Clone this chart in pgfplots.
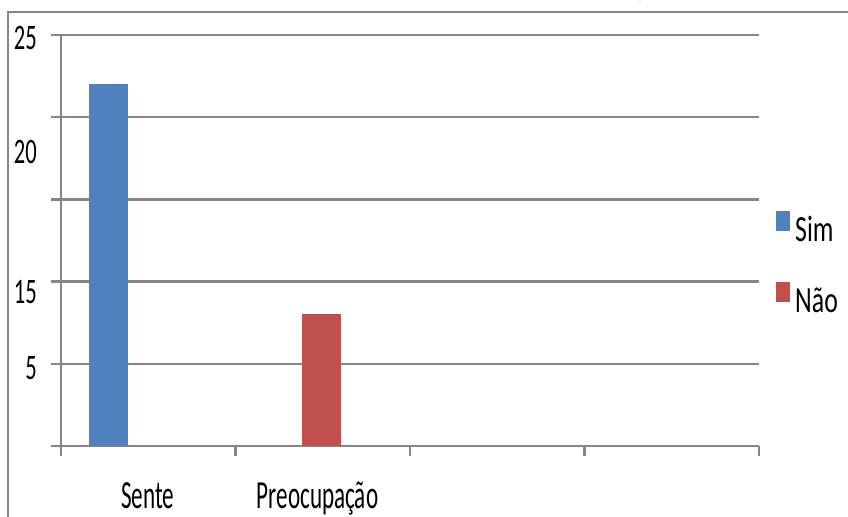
\documentclass[border=0pt]{standalone}
\usepackage{pgfplots}
\pgfplotsset{compat=1.18}
\usepackage{fontspec}
\setmainfont{Carlito}[FakeStretch=0.63]
\newfontfamily\xlabfont{Carlito}[FakeStretch=0.58]
\newfontfamily\legfont{Carlito}[FakeStretch=0.7]
\definecolor{simblue}{HTML}{4F81BD}
\definecolor{naored}{HTML}{C0504D}
\definecolor{gridgray}{HTML}{868686}
\begin{document}
\begin{tikzpicture}
\path[use as bounding box] (0bp,0bp) rectangle (848bp,517bp);
\fill[white] (0bp,0bp) rectangle (848bp,517bp);
\draw[gridgray, line width=2.5bp] (8bp,0bp) -- (8bp,505bp) -- (848bp,505bp);
\node[anchor=base, inner sep=0pt, font=\fontsize{20}{20}\selectfont] at (642bp,519bp) {p};
\begin{axis}[
  at={(61bp,71bp)}, anchor=south west,
  scale only axis, width=698bp, height=411bp,
  xmin=0, xmax=4, ymin=0, ymax=25,
  axis x line*=bottom, axis y line*=left,
  axis line style={gridgray, line width=2.5bp, -},
  xtick={0,1,2,3,4}, xticklabels={},
  ytick={0,5,10,15,20,25}, yticklabels={},
  ymajorgrids, grid style={gridgray, line width=2.5bp},
  tick align=outside, major tick length=10bp,
  tick style={gridgray, line width=2.5bp},
  extra x ticks={0.496,1.470},
  extra x tick labels={Sente,Preocupação},
  extra x tick style={major tick length=0pt, grid=none,
    xticklabel style={anchor=base, inner sep=0pt, yshift=-62bp, font=\xlabfont\fontsize{40}{40}\selectfont}},
  extra y ticks={24.8,17.9,9.37,4.74},
  extra y tick labels={25,20,15,5},
  extra y tick style={major tick length=0pt, grid=none,
    yticklabel style={anchor=east, inner sep=0pt, xshift=-24bp, font=\fontsize{36}{36}\selectfont}},
  ybar, bar width=0.2235,
  legend style={draw=none, fill=none, at={(1.0244,0.572)}, anchor=north west,
    inner sep=0pt, row sep=35bp, column sep=5bp,
    nodes={inner sep=0pt, text height=20bp, text depth=5bp, font=\legfont\fontsize{37}{37}\selectfont}},
  legend cell align=left,
  legend image code/.code={\fill[#1] (0bp,3bp) rectangle (14bp,23bp);},
]
\addplot[fill=simblue, draw=none, bar shift=0pt] coordinates {(0.272,22)};
\addlegendentry{Sim}
\addplot[fill=naored, draw=none, bar shift=0pt] coordinates {(1.493,8)};
\addlegendentry{Não}
\end{axis}
\end{tikzpicture}
\end{document}
